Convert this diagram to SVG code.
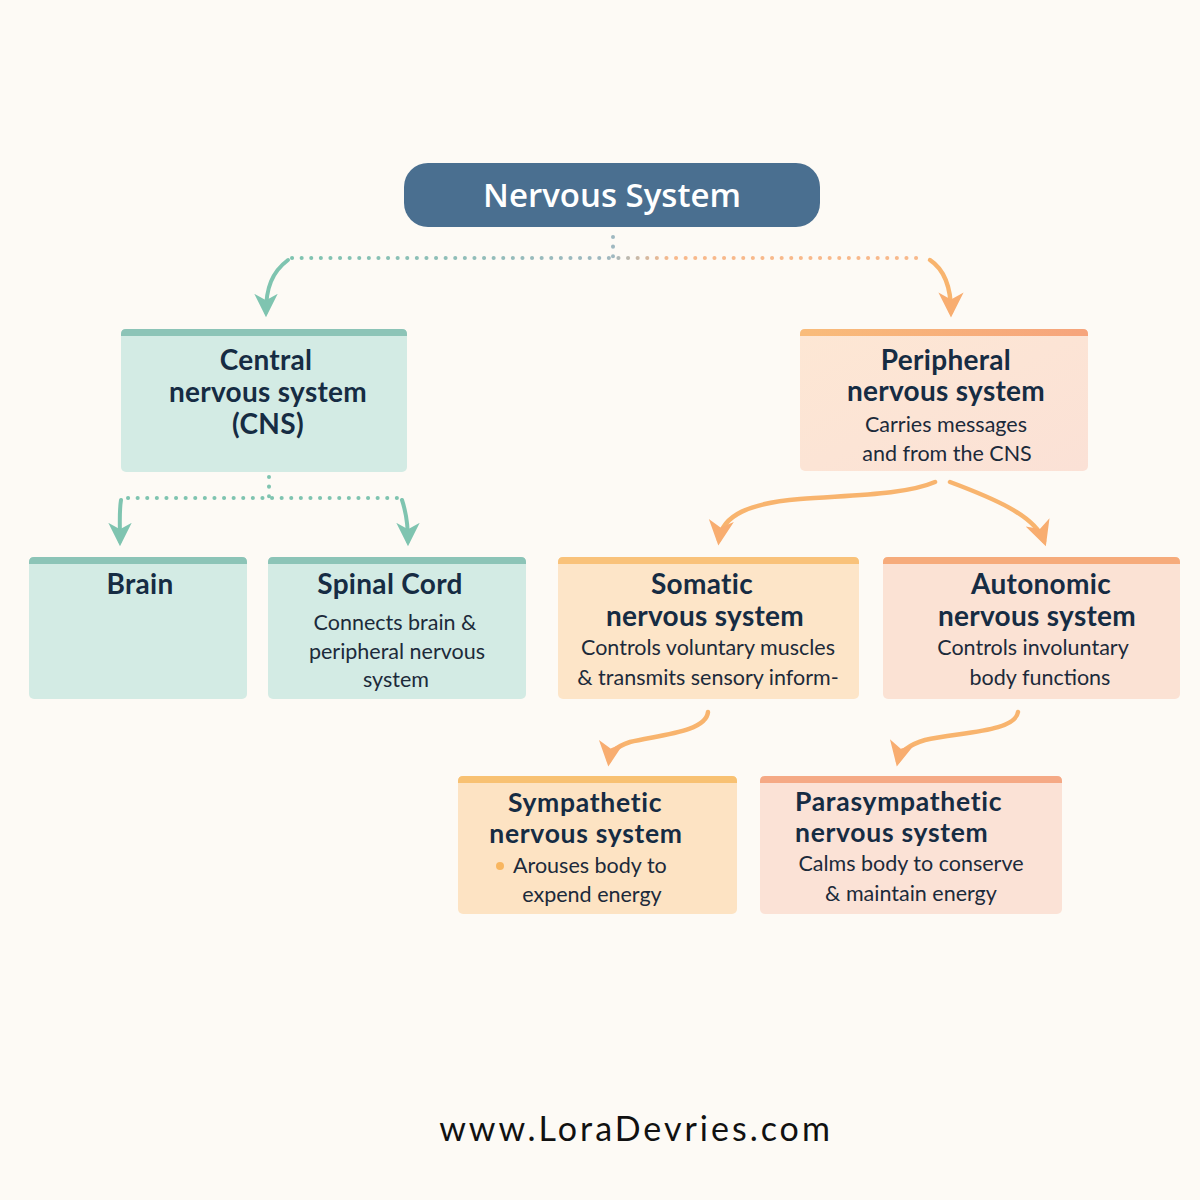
<svg xmlns="http://www.w3.org/2000/svg" width="1200" height="1200" viewBox="0 0 1200 1200">
<defs>
<style>
.t{font-family:Lato,"Noto Sans",sans-serif;font-weight:700;fill:#162c43;font-size:28px;letter-spacing:0.3px}
.t2{font-size:26.5px;letter-spacing:0.7px}
.b{font-family:Lato,"Noto Sans",sans-serif;font-weight:400;fill:#1c2a3a;font-size:21.5px}
.m{text-anchor:middle}
.s{text-anchor:start}
.dt{fill:none;stroke:#7fc4b0;stroke-width:4;stroke-linecap:round;stroke-dasharray:0.1 9.5}
.ct{fill:none;stroke:#7fc4b0;stroke-width:4;stroke-linecap:round}
.co{fill:none;stroke:#f8b46e;stroke-width:4.5;stroke-linecap:round}
</style>
<marker id="mt" viewBox="0 0 20 20" refX="14" refY="10" markerWidth="26" markerHeight="26" markerUnits="userSpaceOnUse" orient="auto">
<path d="M0,1 L18,10 L0,19 L5,10 Z" fill="#7fc4b0"/>
</marker>
<marker id="mo" viewBox="0 0 20 20" refX="14" refY="10" markerWidth="28" markerHeight="28" markerUnits="userSpaceOnUse" orient="auto">
<path d="M0,1 L18,10 L0,19 L5,10 Z" fill="#f8ad70"/>
</marker>
<linearGradient id="gp" x1="0" y1="0" x2="1" y2="1">
<stop offset="0" stop-color="#fde7d4"/><stop offset="1" stop-color="#fbe1d6"/>
</linearGradient>
<linearGradient id="bo" x1="0" y1="0" x2="1" y2="0">
<stop offset="0" stop-color="#f9bc7a"/><stop offset="1" stop-color="#f6a47c"/>
</linearGradient>
<linearGradient id="hl" gradientUnits="userSpaceOnUse" x1="290" y1="0" x2="925" y2="0">
<stop offset="0" stop-color="#7fc4b0"/><stop offset="0.5" stop-color="#9fb8c0"/><stop offset="0.6" stop-color="#f8b98b"/><stop offset="1" stop-color="#f8b98b"/>
</linearGradient>
</defs>
<rect width="1200" height="1200" fill="#fdfaf5"/>

<g id="connectors">
<path d="M613,237 L613,258" fill="none" stroke="#9fb8c0" stroke-width="4" stroke-linecap="round" stroke-dasharray="0.1 9.5"/>
<path d="M292,258 L925,258" fill="none" stroke="url(#hl)" stroke-width="4" stroke-linecap="round" stroke-dasharray="0.1 9.5"/>
<path d="M288,260 C272,272 266,288 266,312" class="ct" marker-end="url(#mt)"/>
<path d="M930,260 C945,270 951,288 951,312" class="co" stroke="#f8a878" marker-end="url(#mo)"/>
<path d="M269,477 L269,498" class="dt"/>
<path d="M128,498 L398,498" class="dt"/>
<path d="M121,500 C119,512 120,525 120,541" class="ct" marker-end="url(#mt)"/>
<path d="M402,500 C406,512 408,525 408,541" class="ct" marker-end="url(#mt)"/>
<path d="M935,482 C905,495 850,495 800,499 C750,503 722,515 719,540" class="co" marker-end="url(#mo)"/>
<path d="M950,482 C990,497 1035,515 1044,541" class="co" marker-end="url(#mo)"/>
<path d="M708,712 C706,732 660,735 630,742 C615,747 610,753 609,761" class="co" marker-end="url(#mo)"/>
<path d="M1018,712 C1015,732 960,732 925,740 C908,745 900,752 898,761" class="co" stroke="#f7a874" marker-end="url(#mo)"/>
</g>

<g id="title">
<rect x="404" y="163" width="416" height="64" rx="24" fill="#4a6f90"/>
<text x="612" y="207" font-family="'Open Sans','Noto Sans',sans-serif" font-weight="600" font-size="33" fill="#ffffff" text-anchor="middle">Nervous System</text>
</g>

<g id="cns">
<rect x="121" y="329" width="286" height="143" rx="5" fill="#d3ebe4"/>
<path d="M121,336 L121,334 Q121,329 126,329 L402,329 Q407,329 407,334 L407,336 Z" fill="#8cc4b7"/>
<text class="t m" x="266" y="370">Central</text>
<text class="t m" x="268" y="402">nervous system</text>
<text class="t m" x="268" y="434">(CNS)</text>
</g>

<g id="pns">
<rect x="800" y="329" width="288" height="142" rx="5" fill="url(#gp)"/>
<path d="M800,336 L800,334 Q800,329 805,329 L1083,329 Q1088,329 1088,334 L1088,336 Z" fill="url(#bo)"/>
<text class="t m" x="946" y="370">Peripheral</text>
<text class="t m" x="946" y="401">nervous system</text>
<text class="b m" x="946" y="432">Carries messages</text>
<text class="b m" x="947" y="461">and from the CNS</text>
</g>

<g id="brain">
<rect x="29" y="557" width="218" height="142" rx="5" fill="#d3ebe4"/>
<path d="M29,564 L29,562 Q29,557 34,557 L242,557 Q247,557 247,562 L247,564 Z" fill="#8cc4b7"/>
<text class="t m" x="140" y="594">Brain</text>
</g>

<g id="spinal">
<rect x="268" y="557" width="258" height="142" rx="5" fill="#d3ebe4"/>
<path d="M268,564 L268,562 Q268,557 273,557 L521,557 Q526,557 526,562 L526,564 Z" fill="#8cc4b7"/>
<text class="t m" x="390" y="594">Spinal Cord</text>
<text class="b m" x="395" y="630">Connects brain &amp;</text>
<text class="b m" x="397" y="659">peripheral nervous</text>
<text class="b m" x="396" y="687">system</text>
</g>

<g id="somatic">
<rect x="558" y="557" width="301" height="142" rx="5" fill="#fde5c8"/>
<path d="M558,564 L558,562 Q558,557 563,557 L854,557 Q859,557 859,562 L859,564 Z" fill="#f9c27a"/>
<text class="t m" x="702" y="594">Somatic</text>
<text class="t m" x="705" y="626">nervous system</text>
<text class="b m" x="708" y="655">Controls voluntary muscles</text>
<text class="b m" x="708" y="685">&amp; transmits sensory inform-</text>
</g>

<g id="autonomic">
<rect x="883" y="557" width="297" height="142" rx="5" fill="#fbe2d4"/>
<path d="M883,564 L883,562 Q883,557 888,557 L1175,557 Q1180,557 1180,562 L1180,564 Z" fill="#f6ab7b"/>
<text class="t m" x="1041" y="594">Autonomic</text>
<text class="t m" x="1037" y="626">nervous system</text>
<text class="b m" x="1033" y="655">Controls involuntary</text>
<text class="b m" x="1040" y="685">body functions</text>
</g>

<g id="sympathetic">
<rect x="458" y="776" width="279" height="138" rx="5" fill="#fde3c3"/>
<path d="M458,783 L458,781 Q458,776 463,776 L732,776 Q737,776 737,781 L737,783 Z" fill="#f8c172"/>
<text class="t t2 m" x="585" y="812">Sympathetic</text>
<text class="t t2 m" x="586" y="843">nervous system</text>
<circle cx="500" cy="866" r="4" fill="#f8b660"/>
<text class="b s" x="513" y="873">Arouses body to</text>
<text class="b m" x="592" y="902">expend energy</text>
</g>

<g id="parasympathetic">
<rect x="760" y="776" width="302" height="138" rx="5" fill="#fbe2d6"/>
<path d="M760,783 L760,781 Q760,776 765,776 L1057,776 Q1062,776 1062,781 L1062,783 Z" fill="#f5a985"/>
<text class="t t2 s" x="795" y="811">Parasympathetic</text>
<text class="t t2 s" x="795" y="842">nervous system</text>
<text class="b m" x="911" y="871">Calms body to conserve</text>
<text class="b m" x="911" y="901">&amp; maintain energy</text>
</g>

<g id="footer">
<text x="636" y="1141" font-family="Lato,'Noto Sans',sans-serif" font-size="34" fill="#111111" text-anchor="middle" letter-spacing="3">www.LoraDevries.com</text>
</g>
</svg>
